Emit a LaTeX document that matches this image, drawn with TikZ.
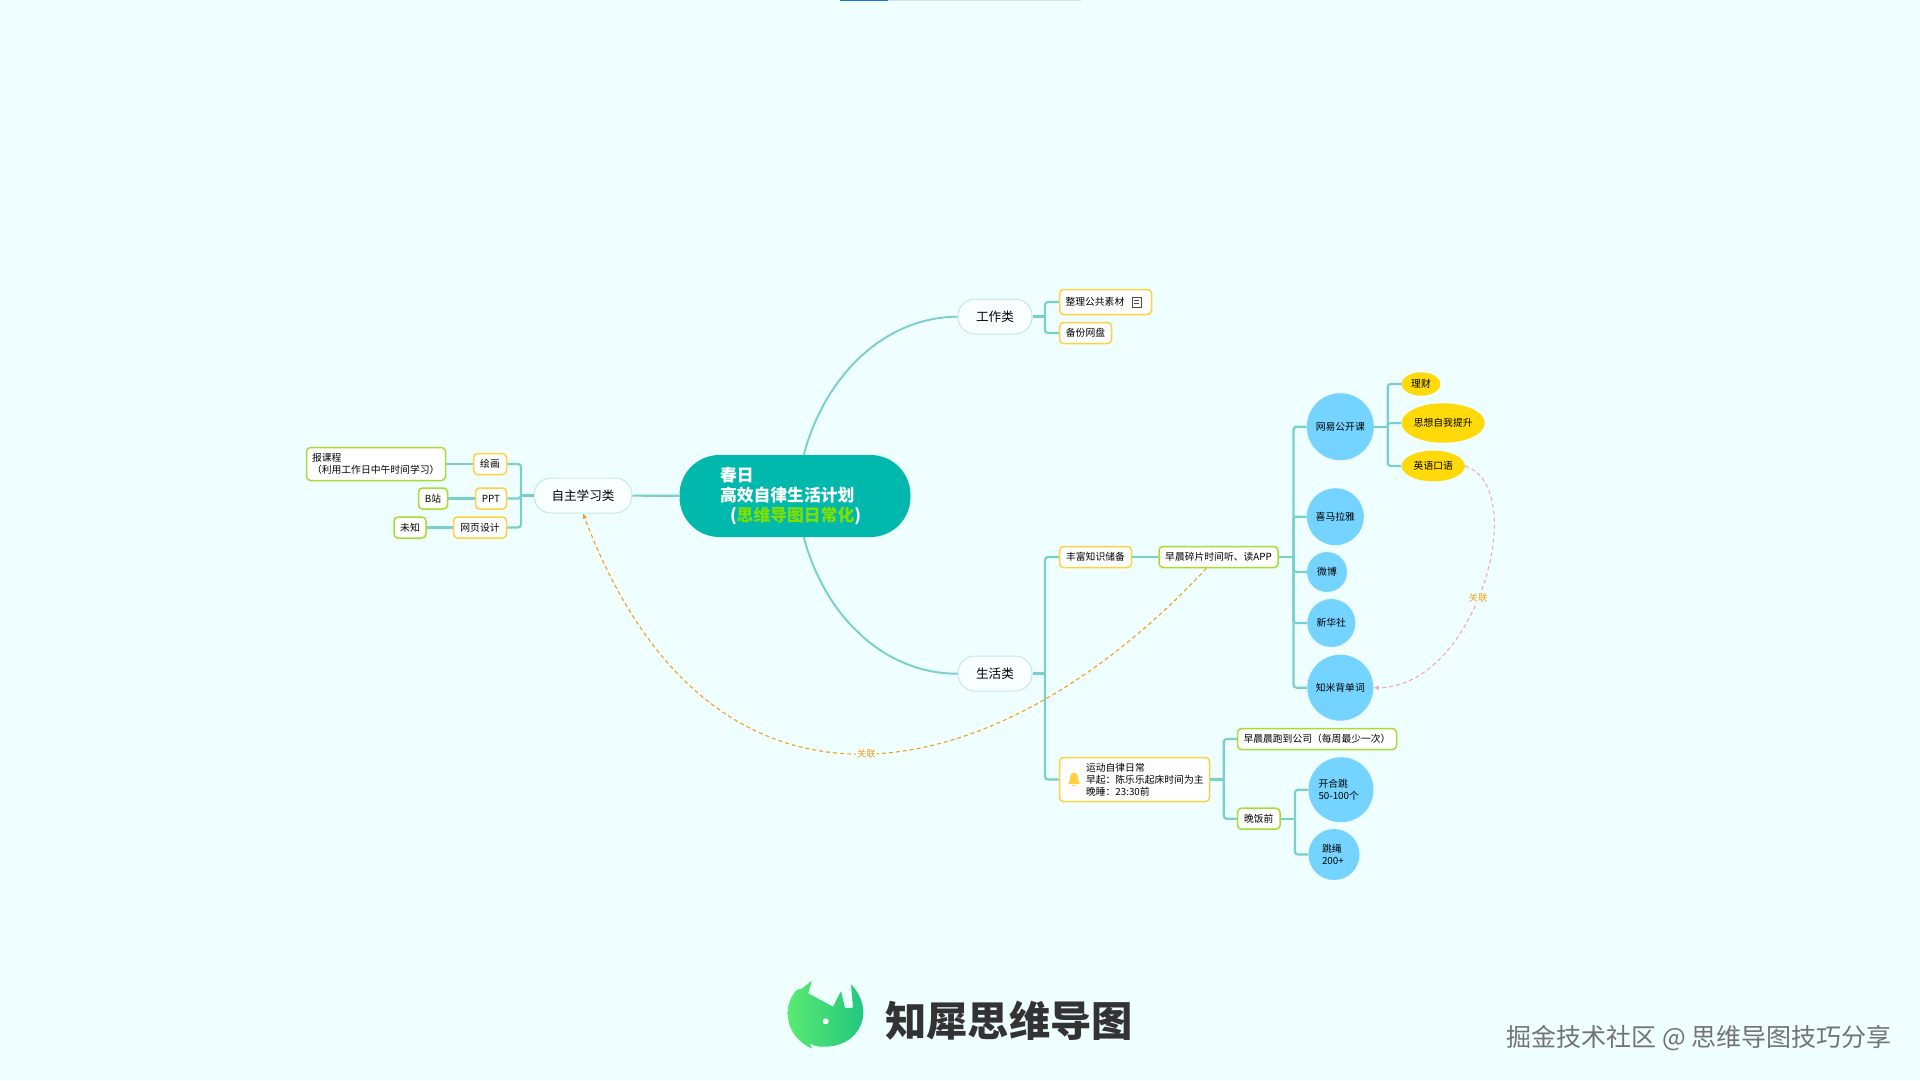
\documentclass[tikz,border=0pt]{standalone}
\usepackage{fontspec}
\setmainfont{Noto Sans CJK SC}
\usetikzlibrary{arrows.meta, positioning, shapes}

\definecolor{pageColor}{HTML}{EFFFFF}
\definecolor{lineColor}{HTML}{78CFCB}
\definecolor{mainColor}{HTML}{00B8AB}
\definecolor{yellowEdge}{HTML}{FFD040}
\definecolor{greenEdge}{HTML}{A8DC30}
\definecolor{ballColor}{HTML}{74D4FF}
\definecolor{goldColor}{HTML}{FFDA08}
\definecolor{linkOrange}{HTML}{F2A01E}
\definecolor{linkPink}{HTML}{F7A3CA}

\begin{document}
\begin{tikzpicture}[
    x=1pt, y=-1pt,
    every node/.style = {inner sep=0pt, font=\fontsize{9.8}{12}\selectfont},
    mainTopic/.style = {fill=mainColor, rectangle, rounded corners=40pt, minimum width=231pt, minimum height=82pt,
        text=white, text width=150pt, align=left, font=\fontsize{16.8}{20.4}\selectfont\bfseries},
    topic/.style = {draw=lineColor!45, fill=white!60!pageColor, line width=1pt, rectangle, rounded corners=17pt,
        minimum height=35pt, font=\fontsize{12.6}{14}\selectfont},
    leafYellow/.style = {draw=yellowEdge, fill=white, line width=1.5pt, rectangle, rounded corners=4pt, minimum height=21pt},
    leafGreen/.style = {draw=greenEdge, fill=white, line width=1.5pt, rectangle, rounded corners=4pt, minimum height=21pt},
    blueBall/.style = {fill=ballColor, circle},
    goldBall/.style = {fill=goldColor, ellipse},
    branch/.style = {draw=lineColor, line width=2.2pt, rounded corners=3pt},
    bigBranch/.style = {draw=lineColor, line width=1.9pt},
    onLink/.style = {fill=pageColor, inner sep=1pt, text=linkOrange, font=\fontsize{9.5}{10}\selectfont},
    orangeLink/.style = {draw=linkOrange, line width=1.1pt, dash pattern=on 4pt off 3pt, -{Latex[length=5pt, width=5pt]}},
    pinkLink/.style = {draw=linkPink, line width=1.1pt, dash pattern=on 4pt off 3pt, -{Latex[length=5pt, width=5pt]}}
]
\fill[pageColor] (0,0) rectangle (1920,1080);
\useasboundingbox (0,0) rectangle (1920,1080);
\fill[fill={rgb,255:red,27;green,120;blue,196}] (840,0) rectangle (888,1.2);
\fill[fill={rgb,255:red,210;green,228;blue,228}] (888,0) rectangle (1081,1.2);

\node(Central)[mainTopic] at (795,496) {
    春日\\
    高效自律生活计划\\
    \hspace*{10pt}({\color[HTML]{7FE000}思维导图日常化})
};

\node(Study)[topic, minimum width=98pt] at (583,495.5) {自主学习类};
\node(Work)[topic, minimum width=74pt] at (995,316.5) {工作类};
\node(Life)[topic, minimum width=74pt] at (995,673.5) {生活类};

\draw[branch] (Study) -- (Central);
\draw[bigBranch] (Central.78) .. controls (825,375) and (885,317) .. (Work);
\draw[bigBranch] (Central.-78) .. controls (825,617) and (885,674) .. (Life);

\node(Drawing)[leafYellow, minimum width=33pt] at (490,464) {绘画};
\node(Ppt)[leafYellow, minimum width=31pt] at (491,498.5) {PPT};
\node(Webpage)[leafYellow, minimum width=53pt] at (480,527.5) {网页设计};
\node(Course)[leafGreen, minimum width=139pt, minimum height=33pt, text width=128pt, align=left, left=26.5pt of Drawing] {
    报课程\\
    （利用工作日中午时间学习）
};
\node(Bilibili)[leafGreen, minimum width=29pt, left=26.5pt of Ppt] {B站};
\node(Unknown)[leafGreen, minimum width=32pt, left=26pt of Webpage] {未知};

\coordinate(StudyBus) at (521,495.5);
\draw[branch] (Study) -- (StudyBus);
\draw[branch] (StudyBus) |- (Drawing);
\draw[branch] (StudyBus) |- (Ppt);
\draw[branch] (StudyBus) |- (Webpage);
\draw[branch] (Drawing) -- (Course);
\draw[branch] (Ppt) -- (Bilibili);
\draw[branch] (Webpage) -- (Unknown);

\node(Material)[leafYellow, minimum width=92pt, minimum height=25pt, text width=80pt, align=left] at (1105.5,302) {整理公共素材};
\node(Backup)[leafYellow, minimum width=52pt] at (1085.5,333) {备份网盘};
\draw[black!70, line width=.9pt] (1132,297) rectangle (1141,307) (1134,300.5) -- (1139,300.5) (1134,303.5) -- (1139,303.5);

\coordinate(WorkBus) at (1045,316.5);
\draw[branch] (Work) -- (WorkBus);
\draw[branch] (WorkBus) |- (Material);
\draw[branch] (WorkBus) |- (Backup);

\node(Knowledge)[leafYellow, minimum width=72pt] at (1095.5,557) {丰富知识储备};
\node(Fragment)[leafGreen, minimum width=119pt, right=26pt of Knowledge] {早晨碎片时间听、读APP};
\node(Sport)[leafYellow, minimum width=150pt, minimum height=44pt, text width=143pt, align=left] at (1134.5,779.5) {
    \hspace*{23pt}运动自律日常\\
    \hspace*{23pt}早起：陈乐乐起床时间为主\\
    \hspace*{23pt}晚睡：23:30前
};
\fill[yellowEdge] (1074,772.5) .. controls (1071,772.5) and (1070,775) .. (1070,778) .. controls (1070,781) and (1069,782.5) .. (1068,784) -- (1080,784) .. controls (1079,782.5) and (1078,781) .. (1078,778) .. controls (1078,775) and (1077,772.5) .. (1074,772.5) -- cycle (1072,785) -- (1076,785) -- (1074,786.5) -- cycle;

\coordinate(LifeBus) at (1045,673.5);
\draw[branch] (Life) -- (LifeBus);
\draw[branch] (LifeBus) |- (Knowledge);
\draw[branch] (LifeBus) |- (Sport);
\draw[branch] (Knowledge) -- (Fragment);

\node(NetEase)[blueBall, minimum size=67pt] at (1340.3,426.7) {网易公开课};
\node(Ximalaya)[blueBall, minimum size=57pt] at (1335.3,516.7) {喜马拉雅};
\node(Weibo)[blueBall, minimum size=40pt] at (1327,572) {微博};
\node(Xinhua)[blueBall, minimum size=48pt] at (1331.3,623) {新华社};
\node(Zhimi)[blueBall, minimum size=66pt] at (1340.3,687.7) {知米背单词};

\coordinate(FragmentBus) at (1293.5,557);
\draw[branch] (Fragment) -- (FragmentBus);
\draw[branch] (FragmentBus) |- (NetEase);
\draw[branch] (FragmentBus) |- (Ximalaya);
\draw[branch] (FragmentBus) |- (Weibo);
\draw[branch] (FragmentBus) |- (Xinhua);
\draw[branch] (FragmentBus) |- (Zhimi);

\node(Finance)[goldBall, minimum width=38.6pt, minimum height=23.4pt] at (1421,384) {理财};
\node(Thought)[goldBall, minimum width=83pt, minimum height=39.4pt] at (1443.2,423) {思想自我提升};
\node(English)[goldBall, minimum width=63.3pt, minimum height=30.6pt] at (1433.3,466) {英语口语};

\coordinate(NetEaseBus) at (1387.7,426.7);
\draw[branch] (NetEase) -- (NetEaseBus);
\draw[branch] (NetEaseBus) |- (Finance);
\draw[branch] (NetEaseBus) |- (Thought);
\draw[branch] (NetEaseBus) |- (English);

\node(Run)[leafGreen, minimum width=159pt, right=26.5pt of Sport.east, yshift=40.5pt] {早晨晨跑到公司（每周最少一次）};
\node(Dinner)[leafGreen, minimum width=42.5pt, right=26.5pt of Sport.east, yshift=-39.2pt] {晚饭前};

\coordinate(SportBus) at (1223.7,779.5);
\draw[branch] (Sport) -- (SportBus);
\draw[branch] (SportBus) |- (Run);
\draw[branch] (SportBus) |- (Dinner);

\node(Jumping)[blueBall, minimum size=65pt, text width=45pt, align=left] at (1341,789.7) {
    开合跳\\
    50-100个
};
\node(Rope)[blueBall, minimum size=51pt, text width=24pt, align=left] at (1334,854.5) {
    跳绳\\
    200+
};

\coordinate(DinnerBus) at (1295,818.7);
\draw[branch] (Dinner) -- (DinnerBus);
\draw[branch] (DinnerBus) |- (Jumping);
\draw[branch] (DinnerBus) |- (Rope);

\draw[orangeLink] (Fragment.-137) .. controls (1000,790) and (714,859) .. (Study.south)
    node[onLink, pos=0.5] {关联};
\draw[pinkLink] (English.east) .. controls (1532,488) and (1476,688) .. (Zhimi.east)
    node[onLink, pos=0.54] {关联};

\shade[left color={rgb,255:red,91;green,234;blue,114}, right color={rgb,255:red,34;green,199;blue,126}] (811.7,980.7) -- (808.3,993.3) -- (833,1006.7) -- (841,991) -- (845,1008) -- (853,1007.7) -- (851,984.3)
    .. controls (858.5,992) and (863.3,1002) .. (863.3,1012)
    .. controls (863.3,1033) and (846,1046.5) .. (825,1046.7)
    .. controls (820,1047) and (815,1046.5) .. (810,1043.5) -- (811.7,1048.3)
    .. controls (797,1042) and (787.7,1029) .. (787.7,1013)
    .. controls (787.7,1004) and (791,996) .. (796.7,990) -- (802.3,988.3) -- cycle;
\fill[white] (825.7,1021.3) circle (3);

\node(LogoText)[font=\fontsize{41.3}{44}\selectfont\bfseries, text=black!80] at (1009,1020.5) {知犀思维导图};
\node(Watermark)[font=\fontsize{25}{28}\selectfont, text=black!55, anchor=east] at (1892,1038) {掘金技术社区 @ 思维导图技巧分享};
\end{tikzpicture}
\end{document}
